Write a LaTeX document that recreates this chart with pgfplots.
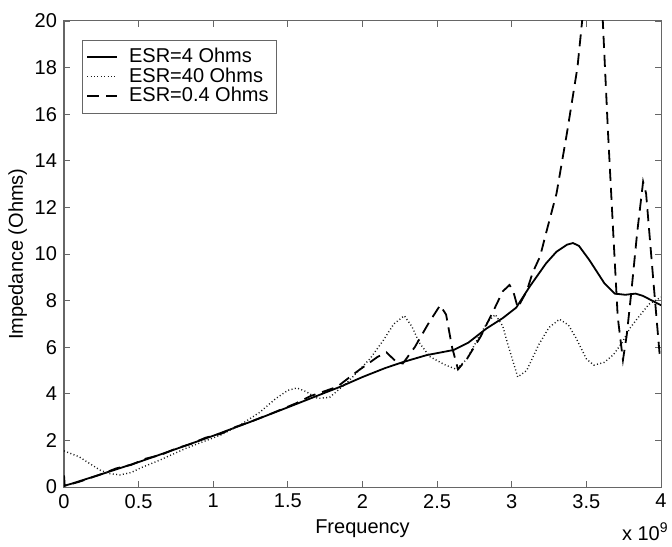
\documentclass[border=0pt]{standalone}
\usepackage{pgfplots}
\pgfplotsset{compat=1.18}
\usepackage{fontspec}
\setmainfont{Liberation Sans}
\begin{document}
\begin{tikzpicture}
\begin{axis}[
  name=ax,
  width=298.5pt, height=233pt, scale only axis,
  xmin=0, xmax=4, ymin=0, ymax=20,
  xtick={0,0.5,...,4}, ytick={0,2,...,20},
  xticklabels={0,0.5,1,1.5,2,2.5,3,3.5,4},
  tick align=inside, major tick length=3pt,
  tick style={black!60, line width=0.4pt},
  axis line style={black!60, line width=0.5pt},
  every tick label/.append style={font=\fontsize{10}{12}\selectfont},
  /pgf/number format/assume math mode=true,
  xlabel={Frequency}, ylabel={Impedance (Ohms)},
  label style={font=\fontsize{10}{12}\selectfont},
  xlabel style={yshift=1pt},
  ylabel style={yshift=-3pt},
  legend style={at={(0.03,0.959)}, anchor=north west, draw=black!60, line width=0.4pt,
    font=\fontsize{10}{12}\selectfont, inner xsep=2pt, inner ysep=2pt, row sep=-3pt},
  legend cell align=left,
  legend image code/.code={\draw[#1] (0.2cm,0cm) -- (0.73cm,0cm); \path (0.85cm,0cm);},
]
\addplot[black, line width=0.9pt] coordinates {
(0,0.05) (0.05,0.14) (0.25,0.55) (0.5,1.07) (0.75,1.63) (1.0,2.2) (1.25,2.8)
(1.5,3.42) (1.75,4.05) (1.85,4.3) (2.0,4.72) (2.15,5.1) (2.27,5.36) (2.43,5.66)
(2.61,5.88) (2.71,6.2) (2.83,6.8) (2.94,7.25) (3.03,7.7) (3.12,8.6) (3.23,9.6)
(3.3,10.1) (3.37,10.4) (3.41,10.47) (3.45,10.35) (3.52,9.74) (3.62,8.75)
(3.69,8.3) (3.76,8.25) (3.83,8.3) (3.88,8.2) (3.94,8.0) (4.0,7.8)};
\addlegendentry{ESR=4 Ohms}
\addplot[black!90, line width=0.7pt, dash pattern=on 0.5pt off 1.2pt] coordinates {
(0,1.55) (0.1,1.3) (0.24,0.73) (0.3,0.58) (0.375,0.52) (0.45,0.62) (0.51,0.81)
(0.64,1.15) (0.82,1.67) (0.91,1.89) (1.05,2.23) (1.18,2.66) (1.31,3.2) (1.42,3.8)
(1.5,4.15) (1.56,4.25) (1.62,4.1) (1.7,3.8) (1.78,3.85) (1.9,4.5) (1.96,4.9)
(2.05,5.5) (2.14,6.3) (2.21,7.0) (2.28,7.35) (2.33,6.9) (2.38,6.2) (2.45,5.6)
(2.55,5.25) (2.63,5.05) (2.7,5.5) (2.78,6.45) (2.84,7.1) (2.89,7.4) (2.94,6.9)
(2.97,6.2) (3.04,4.72) (3.1,5.0) (3.18,6.1) (3.25,6.85) (3.32,7.2) (3.38,6.95)
(3.43,6.4) (3.5,5.5) (3.55,5.23) (3.62,5.35) (3.68,5.67) (3.74,6.2) (3.79,6.8)
(3.85,7.3) (3.92,7.85) (4.0,8.15)};
\addlegendentry{ESR=40 Ohms}
\addplot[black, line width=0.9pt, dash pattern=on 6pt off 3.5pt] coordinates {
(0,0.5) (0.005,0.05) (0.1,0.22) (0.25,0.55) (0.35,0.8) (0.45,0.95) (0.55,1.22)
(0.65,1.38) (0.75,1.65) (0.85,1.85) (0.95,2.12) (1.05,2.28) (1.15,2.58) (1.25,2.8)
(1.4,3.18) (1.55,3.58) (1.65,3.9) (1.75,4.12) (1.83,4.3) (1.96,4.94) (2.10,5.58)
(2.16,5.78) (2.23,5.35) (2.27,5.3) (2.35,6.0) (2.44,7.0) (2.52,7.8) (2.56,7.4)
(2.6,6.0) (2.64,5.05) (2.7,5.5) (2.79,6.44) (2.88,7.6) (2.94,8.4) (2.985,8.67)
(3.01,8.4) (3.04,7.7) (3.1,8.4) (3.14,9.2) (3.19,9.9) (3.23,10.9) (3.3,12.6)
(3.37,15.2) (3.44,18.0) (3.47,19.9) (3.5,22) (3.54,24) (3.58,22) (3.61,20)
(3.645,15.2) (3.68,10.9) (3.71,7.3) (3.745,5.45) (3.77,6.5) (3.80,8.3) (3.84,10.9)
(3.88,13.1) (3.9,12.6) (3.95,8.75) (3.99,5.75) (4.0,5.6)};
\addlegendentry{ESR=0.4 Ohms}
\end{axis}
\node[anchor=base east, font=\fontsize{10}{12}\selectfont, inner sep=0pt]
  at ([xshift=4pt,yshift=-26.5pt]ax.south east) {x 10$^{\mathrm{9}}$};
\pgfresetboundingbox
\path ([xshift=-32pt,yshift=-29.5pt]ax.south west) rectangle ([xshift=5.5pt,yshift=10.5pt]ax.north east);
\end{tikzpicture}
\end{document}
